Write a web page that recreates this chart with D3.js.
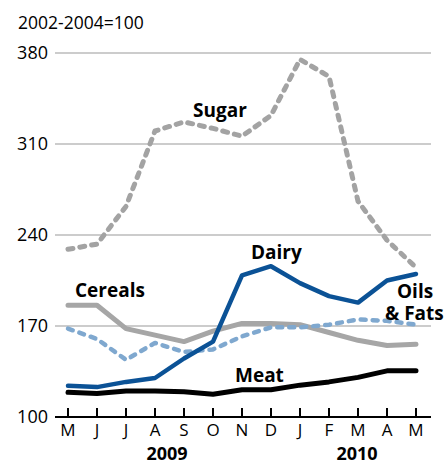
<!DOCTYPE html>
<html>
<head>
<meta charset="utf-8">
<script src="https://cdn.jsdelivr.net/npm/d3@7.9.0/dist/d3.min.js"></script>
<style>
  body { margin: 0; background: #fff; }
  svg { display: block; font-family: "Open Sans", "Noto Sans", sans-serif; }
</style>
</head>
<body>
<svg width="446" height="466"></svg>
<script>
const months = ["M", "J", "J", "A", "S", "O", "N", "D", "J", "F", "M", "A", "M"];
const yTicks = [100, 170, 240, 310, 380];

const sugar = [229, 233, 262, 320, 327, 322, 316, 332, 375, 362, 266, 236, 215];
const dairy = [124, 123, 127, 130, 145, 158, 209, 216, 203, 193, 188, 205, 210];
const cereals = [186, 186, 168, 163, 158, 166, 172, 172, 171, 165, 159, 155, 156];
const oils = [168, 160, 144, 157, 150, 152, 162, 169, 169, 171, 175, 174, 171];
const meat = [119, 118, 120, 120, 119.5, 117.5, 121, 121, 124.5, 127, 130.5, 135.5, 135.5];

const svg = d3.select("svg");

const x = d3.scalePoint().domain(d3.range(months.length)).range([68, 416]);
const y = d3.scaleLinear().domain([100, 380]).range([417, 53]);

// title
svg.append("text")
  .attr("x", 18)
  .attr("y", 29)
  .attr("font-size", "17.5px")
  .text("2002-2004=100");

// gridlines
svg.append("g")
  .selectAll("line")
  .data(yTicks.slice(1))
  .join("line")
  .attr("x1", 55)
  .attr("x2", 431)
  .attr("y1", (d) => y(d))
  .attr("y2", (d) => y(d))
  .attr("stroke", "#999")
  .attr("stroke-width", 1);

// y labels
svg.append("g")
  .selectAll("text")
  .data(yTicks)
  .join("text")
  .attr("x", 48)
  .attr("y", (d) => y(d) + 6)
  .attr("text-anchor", "end")
  .attr("font-size", "18px")
  .text((d) => d);

const line = d3.line()
  .x((d, i) => x(i))
  .y((d) => y(d));

const series = [
  { values: sugar, color: "#a3a3a3", width: 5, dash: "5,7" },
  { values: cereals, color: "#a6a6a6", width: 5, dash: null },
  { values: oils, color: "#7fa8cf", width: 4.5, dash: "5,7" },
  { values: meat, color: "#000", width: 5, dash: null },
  { values: dairy, color: "#0b5296", width: 4.5, dash: null },
];

svg.append("g")
  .selectAll("path")
  .data(series)
  .join("path")
  .attr("d", (d) => line(d.values))
  .attr("fill", "none")
  .attr("stroke", (d) => d.color)
  .attr("stroke-width", (d) => d.width)
  .attr("stroke-dasharray", (d) => d.dash)
  .attr("stroke-linecap", "round")
  .attr("stroke-linejoin", "round");

// x axis line + ticks
svg.append("line")
  .attr("x1", 55)
  .attr("x2", 431)
  .attr("y1", y(100))
  .attr("y2", y(100))
  .attr("stroke", "#000")
  .attr("stroke-width", 2);

svg.append("g")
  .selectAll("line")
  .data(months)
  .join("line")
  .attr("x1", (d, i) => x(i))
  .attr("x2", (d, i) => x(i))
  .attr("y1", y(100))
  .attr("y2", y(100) - 9)
  .attr("stroke", "#000")
  .attr("stroke-width", 2);

svg.append("g")
  .selectAll("text")
  .data(months)
  .join("text")
  .attr("x", (d, i) => x(i))
  .attr("y", 436)
  .attr("text-anchor", "middle")
  .attr("font-size", "17px")
  .text((d) => d);

// year labels
[["2009", 167], ["2010", 357]].forEach(([t, cx]) => {
  svg.append("text")
    .attr("x", cx)
    .attr("y", 460)
    .attr("text-anchor", "middle")
    .attr("font-size", "18px")
    .attr("font-weight", "bold")
    .text(t);
});

// series labels
const labels = [
  { text: "Sugar", x: 193, y: 117 },
  { text: "Dairy", x: 251, y: 259 },
  { text: "Cereals", x: 75, y: 297 },
  { text: "Oils", x: 397, y: 298 },
  { text: "& Fats", x: 385, y: 320 },
  { text: "Meat", x: 235, y: 382 },
];
svg.append("g")
  .selectAll("text")
  .data(labels)
  .join("text")
  .attr("x", (d) => d.x)
  .attr("y", (d) => d.y)
  .attr("font-size", "19px")
  .attr("font-weight", "bold")
  .text((d) => d.text);
</script>
</body>
</html>
